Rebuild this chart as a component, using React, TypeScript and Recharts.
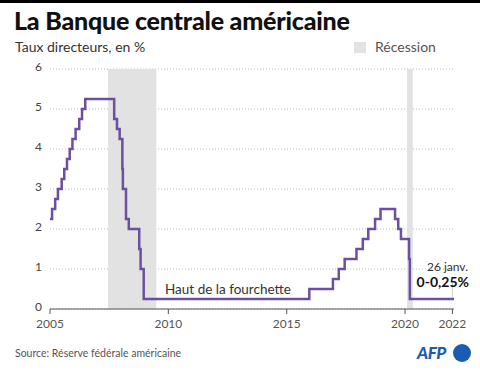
import { LineChart, Line, XAxis, YAxis, CartesianGrid, ReferenceArea, ReferenceLine } from 'recharts';

const rateDates = [
  '2005-01-01', '2005-02-02', '2005-03-22', '2005-05-03', '2005-06-30', '2005-08-09',
  '2005-09-20', '2005-11-01', '2005-12-13', '2006-01-31', '2006-03-28', '2006-05-10',
  '2006-06-29', '2007-09-18', '2007-10-31', '2007-12-11', '2008-01-22', '2008-01-30',
  '2008-03-18', '2008-04-30', '2008-10-08', '2008-10-29', '2008-12-16', '2015-12-16',
  '2016-12-14', '2017-03-15', '2017-06-14', '2017-12-13', '2018-03-21', '2018-06-13',
  '2018-09-26', '2018-12-19', '2019-07-31', '2019-09-18', '2019-10-30', '2020-03-03',
  '2020-03-15', '2022-01-26',
];

const rateValues = [
  2.25, 2.5, 2.75, 3.0, 3.25, 3.5,
  3.75, 4.0, 4.25, 4.5, 4.75, 5.0,
  5.25, 4.75, 4.5, 4.25, 3.5, 3.0,
  2.25, 2.0, 1.5, 1.0, 0.25, 0.5,
  0.75, 1.0, 1.25, 1.5, 1.75, 2.0,
  2.25, 2.5, 2.25, 2.0, 1.75, 1.25,
  0.25, 0.25,
];

// périodes de récession
const recessions = [
  ['2007-06-15', '2009-06-30'],
  ['2020-02-01', '2020-04-30'],
];

const xTicks = [2005, 2010, 2015, 2020, 2022];
const yTicks = [0, 1, 2, 3, 4, 5, 6];

const toYear = (d: string) => {
  const [y, m, day] = d.split('-').map(Number);
  const start = Date.UTC(y, 0, 1);
  const t = Date.UTC(y, m - 1, day);
  return y + (t - start) / (365 * 86400000);
};

const data = rateDates.map((d, i) => ({ t: toYear(d), rate: rateValues[i] }));

const font = 'Lato, "Noto Sans", sans-serif';
const purple = '#6c4f9f';

export default function App() {
  return (
    <div style={{ position: 'fixed', left: 0, top: 0, width: 480, height: 376, background: '#fff', fontFamily: font, overflow: 'hidden' }}>
      <div style={{ position: 'absolute', left: 0, top: 0, width: 480, height: 3, background: '#000' }} />
      <div style={{ position: 'absolute', left: 14, top: 5, fontSize: 25, fontWeight: 900, color: '#111', letterSpacing: -0.2 }}>
        La Banque centrale américaine
      </div>
      <div style={{ position: 'absolute', left: 15, top: 38, fontSize: 14, color: '#333' }}>
        Taux directeurs, en %
      </div>
      <div style={{ position: 'absolute', left: 354, top: 42, width: 12, height: 11, background: '#e2e2e2' }} />
      <div style={{ position: 'absolute', left: 375, top: 38, fontSize: 14, color: '#555' }}>Récession</div>

      <div style={{ position: 'absolute', left: 0, top: 0 }}>
        <LineChart width={480} height={336} data={data} margin={{ top: 69, right: 26, bottom: 0, left: 0 }}>
          {recessions.map(([a, b]) => (
            <ReferenceArea key={a} x1={toYear(a)} x2={toYear(b)} y1={0} y2={6} fill="#e2e2e2" fillOpacity={1} stroke="none" />
          ))}
          <CartesianGrid vertical={false} stroke="#bbb" strokeDasharray="1 2" />
          <XAxis
            dataKey="t"
            type="number"
            domain={[2005, 'dataMax']}
            ticks={xTicks}
            height={27}
            tickSize={5}
            tickMargin={5}
            stroke="#555"
            tick={{ fill: '#555', fontSize: 12, fontFamily: font }}
          />
          <YAxis
            domain={[0, 6]}
            ticks={yTicks}
            width={50}
            axisLine={false}
            tickLine={false}
            tick={{ fill: '#444', fontSize: 12, fontFamily: font, dy: -2 }}
          />
          <ReferenceLine segment={[{ x: 2022, y: 0.3 }, { x: 2022, y: 0.7 }]} stroke="#ccc" strokeWidth={1} />
          <Line
            type="stepAfter"
            dataKey="rate"
            stroke={purple}
            strokeWidth={2.5}
            dot={false}
            isAnimationActive={false}
          />
        </LineChart>
      </div>

      <div style={{ position: 'absolute', left: 165, top: 281, fontSize: 13.5, color: '#333' }}>Haut de la fourchette</div>
      <div style={{ position: 'absolute', right: 12, top: 259, fontSize: 12, color: '#333', textAlign: 'right' }}>26 janv.</div>
      <div style={{ position: 'absolute', right: 11, top: 273, fontSize: 14, fontWeight: 700, color: '#111', textAlign: 'right' }}>0-0,25%</div>

      <div style={{ position: 'absolute', left: 15, top: 347, fontSize: 10.5, color: '#555' }}>Source: Réserve fédérale américaine</div>
      <div style={{ position: 'absolute', left: 417, top: 342, fontSize: 17, fontWeight: 900, fontStyle: 'italic', color: '#1a5cb0', letterSpacing: -0.5 }}>AFP</div>
      <div style={{ position: 'absolute', left: 453, top: 344, width: 18, height: 18, borderRadius: 9, background: '#1a5cb0' }} />
    </div>
  );
}
